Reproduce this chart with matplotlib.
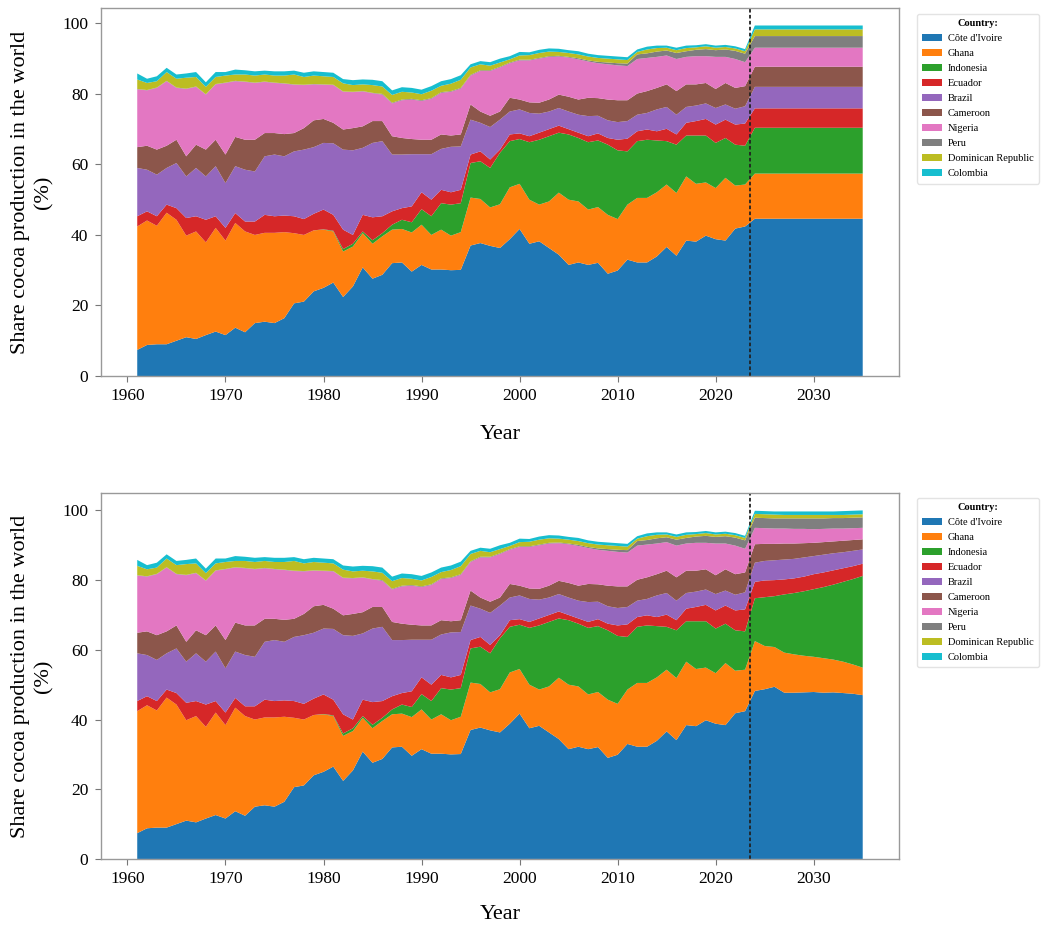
import matplotlib
matplotlib.use("Agg")
import matplotlib.pyplot as plt
import numpy as np

plt.rcParams['font.family'] = ['Liberation Serif', 'DejaVu Serif']

# ---------------- data ----------------
hist_years = list(range(1961, 2024))
fc_years = list(range(2024, 2036))

countries = ["Côte d'Ivoire", "Ghana", "Indonesia", "Ecuador", "Brazil",
             "Cameroon", "Nigeria", "Peru", "Dominican Republic", "Colombia"]
colors = ["#1f77b4", "#ff7f0e", "#2ca02c", "#d62728", "#9467bd",
          "#8c564b", "#e377c2", "#7f7f7f", "#bcbd22", "#17becf"]

# historical shares (%) 1961-2023
civ_hist = [7.4, 8.8, 9.0, 9.0, 10.0, 11.0, 10.5, 11.6, 12.6, 11.6,
            13.7, 12.4, 15.0, 15.4, 15.0, 16.4, 20.6, 21.1, 24.0, 25.0,
            26.5, 22.4, 25.4, 30.8, 27.6, 28.7, 32.0, 32.2, 29.6, 31.5,
            30.2, 30.2, 30.0, 30.1, 37.0, 37.7, 36.9, 36.3, 38.8, 41.7,
            37.5, 38.2, 36.3, 34.4, 31.5, 32.2, 31.5, 32.1, 29.0, 29.9,
            33.0, 32.2, 32.2, 33.9, 36.6, 34.1, 38.4, 38.1, 39.8, 38.8,
            38.4, 41.8, 42.4]
gha_hist = [35.0, 35.3, 33.6, 37.3, 34.3, 28.8, 30.5, 26.3, 29.4, 26.8,
            29.7, 28.6, 25.0, 25.2, 25.6, 24.4, 19.9, 18.9, 17.3, 16.5,
            14.5, 12.9, 11.3, 9.7, 9.9, 10.9, 9.5, 9.5, 11.1, 11.4,
            9.8, 11.3, 9.8, 10.7, 13.6, 12.5, 10.9, 12.4, 14.7, 12.8,
            12.5, 10.4, 13.2, 17.6, 18.5, 17.3, 15.7, 15.8, 16.7, 14.6,
            15.6, 18.3, 18.3, 18.2, 17.7, 17.8, 18.2, 16.4, 15.1, 14.5,
            17.8, 12.2, 11.9]
idn_hist = [0.0, 0.0, 0.0, 0.0, 0.0, 0.0, 0.0, 0.0, 0.0, 0.0,
            0.0, 0.0, 0.0, 0.0, 0.0, 0.0, 0.0, 0.0, 0.0, 0.1,
            0.2, 0.7, 0.8, 0.5, 1.0, 0.9, 1.4, 2.6, 2.9, 4.4,
            5.3, 7.5, 8.8, 8.2, 9.8, 10.7, 11.2, 14.6, 13.1, 12.7,
            16.3, 18.4, 18.5, 17.0, 18.5, 18.0, 19.1, 18.9, 19.9, 19.5,
            15.1, 16.1, 16.5, 14.7, 12.3, 13.7, 11.6, 13.7, 13.3, 12.8,
            11.3, 11.6, 11.0]
ecu_hist = [2.9, 2.6, 2.7, 2.3, 3.3, 5.0, 4.3, 6.4, 3.3, 3.6,
            2.8, 2.8, 3.8, 5.1, 4.7, 4.7, 4.8, 4.5, 4.7, 5.6,
            4.5, 5.5, 2.5, 4.7, 6.5, 4.8, 3.8, 3.3, 4.5, 4.8,
            4.7, 3.8, 3.5, 3.8, 2.4, 2.8, 2.4, 0.9, 1.9, 1.6,
            1.7, 2.0, 2.0, 2.0, 1.5, 1.5, 1.7, 2.0, 1.9, 3.0,
            3.6, 2.8, 2.9, 2.6, 3.5, 2.9, 3.6, 4.1, 4.7, 5.2,
            5.2, 5.7, 6.3]
bra_hist = [13.7, 11.8, 11.8, 10.4, 12.8, 11.8, 13.7, 12.3, 14.2, 12.7,
            13.3, 14.7, 14.2, 16.6, 17.5, 16.8, 18.4, 19.7, 18.9, 18.9,
            20.3, 22.7, 24.0, 19.0, 21.1, 21.3, 16.1, 15.2, 14.8, 10.8,
            12.9, 11.6, 12.9, 12.3, 9.9, 8.1, 9.2, 8.5, 6.5, 6.8,
            6.6, 5.4, 5.0, 5.0, 5.0, 5.1, 5.7, 5.0, 5.0, 5.0,
            5.0, 4.7, 4.7, 6.2, 6.2, 5.6, 4.5, 4.4, 4.4, 4.7,
            4.3, 4.5, 4.9]
cmr_hist = [5.9, 6.8, 7.1, 6.3, 6.6, 5.7, 6.6, 7.6, 7.5, 8.1,
            8.3, 8.5, 9.0, 6.6, 6.1, 6.3, 5.2, 6.1, 7.6, 6.8,
            5.8, 5.7, 6.3, 6.1, 6.2, 5.7, 5.2, 4.7, 4.3, 4.1,
            4.1, 4.1, 3.2, 3.4, 4.3, 3.2, 3.2, 2.3, 3.9, 2.8,
            3.0, 3.1, 3.4, 3.8, 4.2, 4.3, 5.2, 5.0, 5.9, 6.2,
            5.9, 6.0, 6.2, 6.1, 6.4, 6.7, 6.4, 6.0, 5.8, 5.4,
            6.1, 5.9, 5.7]
nga_hist = [16.4, 15.7, 17.5, 18.3, 14.7, 19.1, 16.4, 15.6, 15.7, 20.3,
            15.8, 16.4, 16.1, 14.5, 14.2, 14.3, 13.7, 12.2, 10.2, 9.7,
            10.7, 10.7, 10.2, 9.9, 7.9, 7.5, 9.3, 10.7, 11.2, 11.0,
            11.6, 11.8, 12.4, 13.0, 8.2, 11.5, 12.7, 12.5, 9.8, 11.1,
            11.9, 12.5, 12.1, 10.8, 11.1, 11.4, 10.3, 9.9, 10.0, 9.9,
            9.7, 9.8, 9.4, 8.8, 8.2, 9.1, 7.8, 8.0, 7.6, 9.1,
            7.4, 8.2, 6.8]
per_hist = [0.1, 0.1, 0.1, 0.1, 0.1, 0.1, 0.1, 0.1, 0.1, 0.1,
            0.1, 0.1, 0.1, 0.1, 0.1, 0.1, 0.1, 0.1, 0.1, 0.1,
            0.1, 0.1, 0.1, 0.1, 0.1, 0.2, 0.2, 0.2, 0.2, 0.2,
            0.2, 0.2, 0.2, 0.2, 0.2, 0.2, 0.2, 0.2, 0.2, 0.2,
            0.2, 0.2, 0.2, 0.2, 0.2, 0.3, 0.3, 0.4, 0.5, 0.6,
            0.7, 1.3, 1.3, 1.5, 1.4, 1.7, 1.6, 1.8, 2.0, 1.9,
            2.1, 2.3, 2.4]
dom_hist = [2.7, 2.0, 1.8, 2.5, 2.5, 3.1, 2.7, 2.1, 2.0, 2.0,
            1.8, 2.0, 2.0, 2.0, 2.0, 2.2, 2.8, 2.2, 2.4, 2.3,
            2.2, 2.3, 1.9, 1.9, 2.2, 2.1, 2.2, 2.2, 1.8, 1.7,
            2.1, 1.8, 2.1, 2.3, 2.1, 1.7, 1.3, 1.2, 0.9, 1.2,
            1.3, 1.4, 1.3, 1.1, 1.1, 1.1, 1.1, 1.1, 1.1, 1.1,
            1.0, 0.7, 1.1, 1.0, 0.8, 0.8, 0.9, 0.7, 0.8, 0.7,
            0.7, 0.7, 0.7]
col_hist = [1.7, 1.2, 1.4, 1.2, 1.2, 1.2, 1.4, 1.3, 1.4, 1.0,
            1.4, 1.2, 1.2, 1.1, 1.2, 1.2, 1.1, 1.2, 1.2, 1.2,
            1.2, 1.2, 1.4, 1.4, 1.5, 1.5, 1.3, 1.3, 1.3, 1.3,
            1.3, 1.3, 1.3, 1.3, 0.9, 0.9, 1.0, 1.1, 0.9, 1.0,
            0.8, 0.9, 0.9, 0.9, 0.8, 0.9, 0.8, 0.8, 0.8, 0.8,
            0.8, 0.7, 0.8, 0.7, 0.6, 0.7, 0.7, 0.6, 0.6, 0.6,
            0.6, 0.6, 0.6]

# forecast A (top panel), 2024-2035
civ_fa = [44.6, 44.6, 44.6, 44.6, 44.6, 44.6, 44.6, 44.6, 44.6, 44.6, 44.6, 44.6]
gha_fa = [12.8, 12.8, 12.8, 12.8, 12.8, 12.8, 12.8, 12.8, 12.8, 12.8, 12.8, 12.8]
idn_fa = [13.0, 13.0, 13.0, 13.0, 13.0, 13.0, 13.0, 13.0, 13.0, 13.0, 13.0, 13.0]
ecu_fa = [5.5, 5.5, 5.5, 5.5, 5.5, 5.5, 5.5, 5.5, 5.5, 5.5, 5.5, 5.5]
bra_fa = [6.1, 6.1, 6.1, 6.1, 6.1, 6.1, 6.1, 6.1, 6.1, 6.1, 6.1, 6.1]
cmr_fa = [5.7, 5.7, 5.7, 5.7, 5.7, 5.7, 5.7, 5.7, 5.7, 5.7, 5.7, 5.7]
nga_fa = [5.4, 5.4, 5.4, 5.4, 5.4, 5.4, 5.4, 5.4, 5.4, 5.4, 5.4, 5.4]
per_fa = [3.3, 3.3, 3.3, 3.3, 3.3, 3.3, 3.3, 3.3, 3.3, 3.3, 3.3, 3.3]
dom_fa = [1.9, 1.9, 1.9, 1.9, 1.9, 1.9, 1.9, 1.9, 1.9, 1.9, 1.9, 1.9]
col_fa = [1.1, 1.1, 1.1, 1.1, 1.1, 1.1, 1.1, 1.1, 1.1, 1.1, 1.1, 1.1]

# forecast B (bottom panel), 2024-2035
civ_fb = [48.2, 48.7, 49.4, 47.7, 47.7, 47.8, 47.9, 47.7, 47.8, 47.6, 47.4, 47.0]
gha_fb = [14.3, 12.4, 11.4, 11.5, 11.0, 10.5, 10.1, 9.9, 9.4, 9.0, 8.4, 7.9]
idn_fb = [12.3, 14.0, 14.6, 16.7, 17.6, 18.5, 19.4, 20.4, 21.5, 22.9, 24.5, 26.3]
ecu_fb = [4.7, 4.8, 4.6, 4.3, 4.2, 4.2, 4.3, 4.2, 4.1, 3.9, 3.7, 3.5]
bra_fb = [5.5, 5.6, 5.7, 5.7, 5.6, 5.5, 5.2, 5.1, 4.9, 4.6, 4.4, 4.1]
cmr_fb = [5.3, 4.9, 4.7, 4.6, 4.4, 4.1, 3.8, 3.6, 3.4, 3.3, 3.1, 2.9]
nga_fb = [4.7, 4.5, 4.4, 4.3, 4.2, 4.1, 3.9, 3.8, 3.7, 3.5, 3.4, 3.3]
per_fb = [2.9, 2.9, 2.9, 2.9, 3.0, 3.0, 3.1, 3.0, 3.0, 3.0, 3.0, 3.0]
dom_fb = [1.1, 1.1, 1.1, 1.0, 1.0, 1.0, 1.0, 1.0, 0.9, 0.9, 0.9, 0.9]
col_fb = [0.9, 0.9, 0.9, 1.0, 1.0, 1.0, 1.0, 1.0, 1.0, 1.1, 1.1, 1.1]

hist = [civ_hist, gha_hist, idn_hist, ecu_hist, bra_hist,
        cmr_hist, nga_hist, per_hist, dom_hist, col_hist]
fc_a = [civ_fa, gha_fa, idn_fa, ecu_fa, bra_fa, cmr_fa, nga_fa, per_fa, dom_fa, col_fa]
fc_b = [civ_fb, gha_fb, idn_fb, ecu_fb, bra_fb, cmr_fb, nga_fb, per_fb, dom_fb, col_fb]

forecast_start = 2023.5
xticks = [1960, 1970, 1980, 1990, 2000, 2010, 2020, 2030]
yticks = [0, 20, 40, 60, 80, 100]

# ---------------- plot ----------------
fig = plt.figure(figsize=(10.44, 9.27), dpi=100)
ax1 = fig.add_axes([0.0967, 0.5944, 0.7644, 0.397])
ax2 = fig.add_axes([0.0967, 0.0734, 0.7644, 0.3948])

years = hist_years + fc_years
for ax, fc, leg_y, xl_y in [(ax1, fc_a, 0.985, -0.133), (ax2, fc_b, 0.463, -0.126)]:
    series = [h + f for h, f in zip(hist, fc)]
    ax.stackplot(years, *series, colors=colors, labels=countries, linewidth=0.3)
    ax.axvline(forecast_start, color='#222222', linestyle=(0, (2.0, 1.3)), linewidth=1.3)
    ax.set_xticks(xticks)
    ax.set_yticks(yticks)
    ax.tick_params(axis='both', labelsize=12.5, length=4, color='#777777', pad=5)
    for s in ax.spines.values():
        s.set_color('#999999')
        s.set_linewidth(1.0)
    ax.set_ylabel("Share cocoa production in the world\n(%)", fontsize=16, linespacing=1.3)
    ax.yaxis.set_label_coords(-0.06, 0.5)
    ax.set_xlabel("Year", fontsize=16)
    ax.xaxis.set_label_coords(0.5, xl_y)
    handles, labels = ax.get_legend_handles_labels()
    fig.legend(handles, labels, loc='upper left', bbox_to_anchor=(0.878, leg_y),
               borderaxespad=0.0,
               title="Country:", fontsize=7.5,
               title_fontproperties={'weight': 'bold', 'size': 7.5},
               frameon=True, fancybox=True, edgecolor='#dddddd', labelspacing=0.55,
               handlelength=1.9, handleheight=0.7, handletextpad=0.6, borderpad=0.5)

fig.savefig("out.png", dpi=100)
